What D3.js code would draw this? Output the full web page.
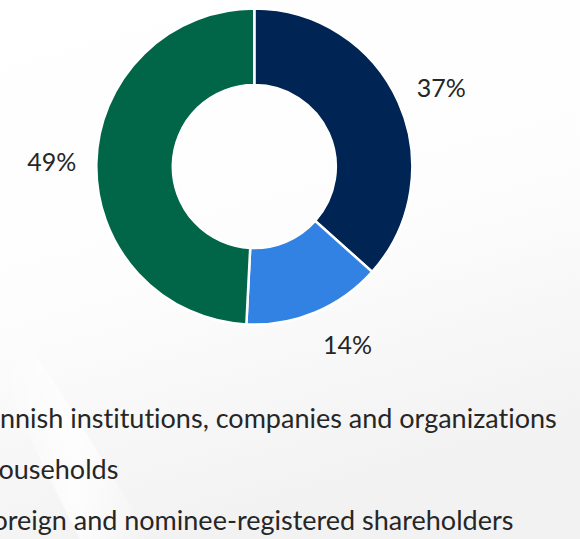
<!DOCTYPE html>
<html><head><meta charset="utf-8">
<script src="https://cdn.jsdelivr.net/npm/d3@7"></script>
<style>
html,body{margin:0;padding:0;background:#fff;overflow:hidden}
svg{display:block}
text{font-variant-ligatures:none;font-feature-settings:"liga" 0}
</style></head>
<body>
<svg id="chart" width="580" height="539"></svg>
<script>
const categories = ["Finnish institutions, companies and organizations", "Households", "Foreign and nominee-registered shareholders"];
const values = [36.6, 14.2, 49.2];
const colors = ["#002554", "#3182e2", "#006647"];

const W = 580, H = 539;
const svg = d3.select("#chart");
const defs = svg.append("defs");
const bg = defs.append("linearGradient").attr("id","bg").attr("x1","0").attr("y1","0").attr("x2","0.3").attr("y2","1");
bg.append("stop").attr("offset","0").attr("stop-color","#ffffff");
bg.append("stop").attr("offset","0.55").attr("stop-color","#fdfdfd");
bg.append("stop").attr("offset","1").attr("stop-color","#f2f2f2");
svg.append("rect").attr("width",W).attr("height",H).attr("fill","url(#bg)");
const streak = defs.append("linearGradient").attr("id","streak").attr("x1","0").attr("y1","0").attr("x2","1").attr("y2","0");
streak.append("stop").attr("offset","0").attr("stop-color","#fff").attr("stop-opacity",0);
streak.append("stop").attr("offset","0.5").attr("stop-color","#fff").attr("stop-opacity",0.8);
streak.append("stop").attr("offset","1").attr("stop-color","#fff").attr("stop-opacity",0);
svg.append("path").attr("d","M0,300 C40,360 80,420 150,539 L80,539 C40,460 10,400 0,360 Z").attr("fill","url(#streak)");

const cx = 254.3, cy = 166.6, rOut = 158, rIn = 81.5, rLab = 178;
const total = d3.sum(values);
const pie = d3.pie().sort(null).value(d => d)(values);
const arc = d3.arc().innerRadius(rIn).outerRadius(rOut);
const g = svg.append("g").attr("transform",`translate(${cx},${cy})`);
g.selectAll("path.slice").data(pie).join("path")
  .attr("class","slice")
  .attr("d",arc)
  .attr("fill",(d,i)=>colors[i])
  .attr("stroke","#fff").attr("stroke-width",2.5).attr("stroke-linejoin","miter");
const fmt = d3.format(".0%");
const labels = g.selectAll("text.lab").data(pie).join("text")
  .attr("class","lab")
  .attr("text-anchor","middle").attr("dy","0.36em")
  .attr("font-family","Lato, 'Open Sans', sans-serif").attr("font-size",25)
  .attr("fill","#262626")
  .text(d=>fmt(d.value/total));
// outside-end placement: label box touches a circle just outside the ring
labels.attr("transform", function(d){
  const a = (d.startAngle + d.endAngle)/2;
  const ux = Math.sin(a), uy = -Math.cos(a);
  const bb = this.getBBox();
  const x = rLab*ux + Math.sign(ux)*bb.width/2;
  const y = rLab*uy + uy*bb.height/2;
  return `translate(${x},${y})`;
});

// legend (partly cut off on the left, as in the reference)
const leg = svg.append("g").attr("font-family","Lato, 'Open Sans', sans-serif").attr("font-size",27).attr("fill","#262626");
const probe = leg.append("text").text("Fi");
const off = probe.node().getComputedTextLength();
probe.remove();
const rows = leg.selectAll("g.row").data(categories).join("g").attr("class","row")
  .attr("transform",(d,i)=>`translate(${-off},${428 + i*51})`);
rows.append("rect").attr("x",-34).attr("y",-16).attr("width",16).attr("height",16).attr("fill",(d,i)=>colors[i]);
rows.append("text").attr("x",0).attr("y",0).text(d=>d);
</script>
</body></html>
